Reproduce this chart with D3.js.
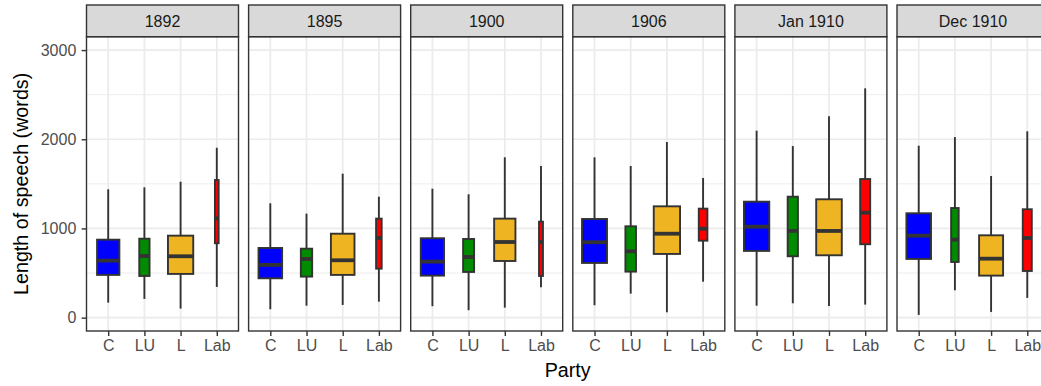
<!DOCTYPE html>
<html>
<head>
<meta charset="utf-8">
<script src="https://cdn.jsdelivr.net/npm/d3@7"></script>
<style>
  body { margin: 0; background: #fff; overflow: hidden; }
  text { font-family: "Liberation Sans", Arial, sans-serif; }
</style>
</head>
<body>
<div id="chart"></div>
<script>
////////////////////////////////////////////////////////////////////////
// Data: speech length boxplot stats per election and party

let elections = ["1892", "1895", "1900", "1906", "Jan 1910", "Dec 1910"];
let parties = ["C", "LU", "L", "Lab"];

// one row per election, one column per party (C, LU, L, Lab)
let whiskerLow  = [[168, 210, 101, 344], [94, 134, 142, 179], [128, 83, 112, 341],
                   [139, 269, 60, 403], [134, 161, 131, 146], [30, 307, 64, 221]];
let lowerQuart  = [[479, 467, 490, 834], [441, 460, 479, 549], [471, 512, 635, 467],
                   [613, 516, 714, 863], [748, 688, 699, 823], [658, 624, 471, 523]];
let medians     = [[639, 691, 688, 1114], [591, 658, 643, 893], [628, 680, 848, 848],
                   [845, 744, 941, 997], [1020, 972, 972, 1177], [919, 874, 661, 893]];
let upperQuart  = [[874, 885, 919, 1543], [781, 773, 941, 1110], [890, 882, 1110, 1076],
                   [1106, 1024, 1248, 1222], [1300, 1356, 1327, 1554], [1170, 1229, 923, 1215]];
let whiskerHigh = [[1439, 1461, 1524, 1905], [1282, 1166, 1614, 1356], [1446, 1383, 1798, 1700],
                   [1798, 1700, 1969, 1566], [2096, 1924, 2257, 2571], [1928, 2025, 1588, 2089]];
// number of speeches (drives box width, varwidth style)
let speechCounts = [[288, 61, 370, 8], [322, 74, 322, 18], [314, 70, 262, 9],
                    [361, 65, 400, 43], [370, 61, 379, 58], [350, 33, 333, 47]];

let yTicks = [0, 1000, 2000, 3000];
let yMinor = [500, 1500, 2500];

////////////////////////////////////////////////////////////////////////
// Layout

let width = 1041, height = 386;
let panelLeft = 86.5, panelW = 152, panelGap = 10.1;
let stripTop = 5, panelTop = 36.7, panelBottom = 331;
let dark = "#333333";

let colour = d3.scaleOrdinal().domain(parties)
  .range(["#0000FF", "#008B00", "#EEB422", "#FF0000"]);

let yScale = d3.scaleLinear().domain([-150, 3150]).range([panelBottom, panelTop]);
let xScale = d3.scalePoint().domain(parties).range([0, panelW]).padding(0.6);
let wScale = d3.scaleSqrt().domain([0, d3.max(speechCounts.flat())]).range([0, 26.3]);

let svg = d3.select("#chart").append("svg")
  .attr("width", width)
  .attr("height", height);

// build box records from the arrays
let boxes = [];
elections.forEach(function(e, i) {
  parties.forEach(function(p, j) {
    boxes.push({
      election: e, party: p,
      lo: whiskerLow[i][j], q1: lowerQuart[i][j], med: medians[i][j],
      q3: upperQuart[i][j], hi: whiskerHigh[i][j], n: speechCounts[i][j]
    });
  });
});

let panels = svg.selectAll("g.panel")
  .data(elections)
  .enter()
  .append("g")
  .attr("class", "panel")
  .attr("transform", function(d, i) {
    return "translate(" + (panelLeft + i * (panelW + panelGap)) + ",0)";
  });

panels.each(function(election) {
  let g = d3.select(this);

  g.append("rect")
    .attr("x", 0).attr("y", panelTop)
    .attr("width", panelW).attr("height", panelBottom - panelTop)
    .attr("fill", "#fff");

  // grid
  g.selectAll("line.minor").data(yMinor).enter().append("line")
    .attr("x1", 0).attr("x2", panelW)
    .attr("y1", yScale).attr("y2", yScale)
    .attr("stroke", "#EBEBEB").attr("stroke-width", 0.9);
  g.selectAll("line.majorY").data(yTicks).enter().append("line")
    .attr("x1", 0).attr("x2", panelW)
    .attr("y1", yScale).attr("y2", yScale)
    .attr("stroke", "#EBEBEB").attr("stroke-width", 1.7);
  g.selectAll("line.majorX").data(parties).enter().append("line")
    .attr("x1", xScale).attr("x2", xScale)
    .attr("y1", panelTop).attr("y2", panelBottom)
    .attr("stroke", "#EBEBEB").attr("stroke-width", 1.7);

  let bx = g.selectAll("g.box")
    .data(boxes.filter(function(b) { return b.election === election; }))
    .enter().append("g");

  bx.append("line")
    .attr("x1", function(d) { return xScale(d.party); })
    .attr("x2", function(d) { return xScale(d.party); })
    .attr("y1", function(d) { return yScale(d.q3); })
    .attr("y2", function(d) { return yScale(d.hi); })
    .attr("stroke", dark).attr("stroke-width", 1.9);
  bx.append("line")
    .attr("x1", function(d) { return xScale(d.party); })
    .attr("x2", function(d) { return xScale(d.party); })
    .attr("y1", function(d) { return yScale(d.q1); })
    .attr("y2", function(d) { return yScale(d.lo); })
    .attr("stroke", dark).attr("stroke-width", 1.9);
  bx.append("rect")
    .attr("x", function(d) { return xScale(d.party) - wScale(d.n) / 2; })
    .attr("width", function(d) { return wScale(d.n); })
    .attr("y", function(d) { return yScale(d.q3); })
    .attr("height", function(d) { return yScale(d.q1) - yScale(d.q3); })
    .attr("fill", function(d) { return colour(d.party); })
    .attr("stroke", dark).attr("stroke-width", 1.9);
  bx.append("line")
    .attr("x1", function(d) { return xScale(d.party) - wScale(d.n) / 2; })
    .attr("x2", function(d) { return xScale(d.party) + wScale(d.n) / 2; })
    .attr("y1", function(d) { return yScale(d.med); })
    .attr("y2", function(d) { return yScale(d.med); })
    .attr("stroke", dark).attr("stroke-width", 3.8);

  // border
  g.append("rect")
    .attr("x", 0).attr("y", panelTop)
    .attr("width", panelW).attr("height", panelBottom - panelTop)
    .attr("fill", "none").attr("stroke", dark).attr("stroke-width", 1.4);

  // strip
  g.append("rect")
    .attr("x", 0).attr("y", stripTop)
    .attr("width", panelW).attr("height", panelTop - stripTop)
    .attr("fill", "#D9D9D9").attr("stroke", dark).attr("stroke-width", 1.4);
  g.append("text")
    .attr("x", panelW / 2).attr("y", 27.3)
    .attr("text-anchor", "middle")
    .attr("font-size", "16px")
    .attr("fill", "#1A1A1A")
    .text(election);

  // x axis
  let xa = g.append("g")
    .attr("transform", "translate(0," + panelBottom + ")")
    .call(d3.axisBottom(xScale).tickSize(4.9).tickPadding(4.2));
  xa.select(".domain").remove();
  xa.selectAll(".tick line").attr("stroke", dark).attr("stroke-width", 1.4);
  xa.selectAll(".tick text")
    .attr("font-size", "16px").attr("fill", "#4D4D4D")
    .style("font-family", "'Liberation Sans', Arial, sans-serif");
});

// y axis
let ya = svg.append("g")
  .attr("transform", "translate(" + panelLeft + ",0)")
  .call(d3.axisLeft(yScale).tickValues(yTicks).tickFormat(d3.format("d"))
    .tickSize(4.9).tickPadding(5.3));
ya.select(".domain").remove();
ya.selectAll(".tick line").attr("stroke", dark).attr("stroke-width", 1.4);
ya.selectAll(".tick text")
  .attr("font-size", "16px").attr("fill", "#4D4D4D")
  .style("font-family", "'Liberation Sans', Arial, sans-serif");

// axis titles
svg.append("text")
  .attr("transform", "translate(28," + ((panelTop + panelBottom) / 2) + ") rotate(-90)")
  .attr("text-anchor", "middle")
  .attr("font-size", "19.7px")
  .attr("fill", "#000")
  .text("Length of speech (words)");

svg.append("text")
  .attr("x", 567.7).attr("y", 377)
  .attr("text-anchor", "middle")
  .attr("font-size", "19.7px")
  .attr("fill", "#000")
  .text("Party");
</script>
</body>
</html>
